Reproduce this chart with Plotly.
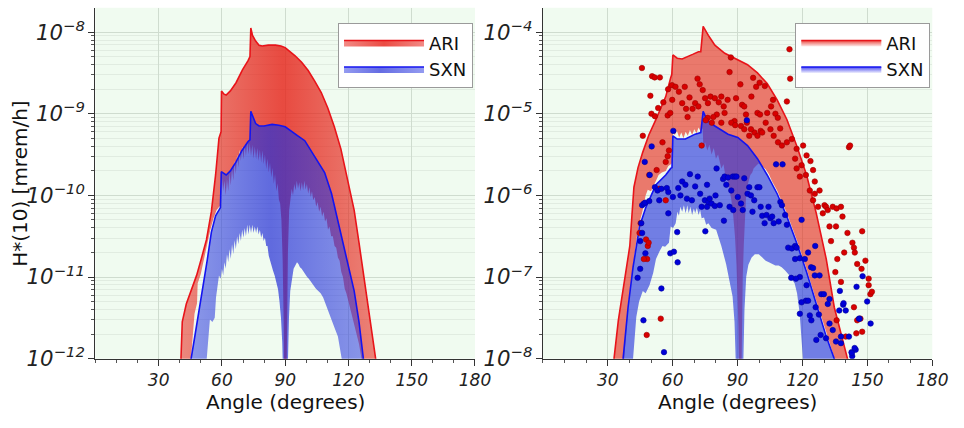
import plotly.graph_objects as go

# ---------------- data (angle in degrees, log10 of H*(10) in mrem/h) ----------------
ANGLE_TICKS = [30, 60, 90, 120, 150, 180]
SERIES = ["ARI", "SXN"]

# Left panel: envelope curves
ari_hi_left = [(40.3,-12.2),(41.2,-11.55),(43.1,-11.33),(45.5,-11.15),(48.0,-10.98),(50.5,-10.75),
               (52.7,-10.54),(55.0,-10.2),(57.0,-9.75),(58.6,-9.3),(59.6,-9.22),(59.8,-8.72),(61.0,-8.76),
               (62.0,-8.77),(64.0,-8.72),(66.7,-8.62),(69.8,-8.46),(72.4,-8.35),(73.3,-8.3),(73.7,-7.95),
               (74.5,-8.04),(76.0,-8.11),(77.6,-8.16),(79.1,-8.17),(82.0,-8.16),(85.4,-8.16),(88.0,-8.17),
               (90.0,-8.19),(92.0,-8.23),(94.7,-8.29),(97.8,-8.37),(100.9,-8.47),(104.0,-8.6),(107.1,-8.74),
               (110.2,-8.93),(113.3,-9.16),(116.4,-9.43),(119.5,-9.78),(122.7,-10.18),(125.0,-10.58),
               (127.3,-10.98),(129.0,-11.3),(130.5,-11.53),(133.3,-12.0),(134.0,-12.2)]

ari_lo_left = [(43.5,-12.6),(45.5,-11.9),(47.0,-11.45),(48.2,-11.32),(48.5,-11.08),(50.0,-10.96),
               (51.5,-10.78),(52.2,-10.7),(53.5,-10.52),(54.5,-10.42),(56.0,-10.28),(57.5,-10.18),
               (59.3,-10.12),(60.0,-9.78),(60.6,-9.95),(61.2,-9.82),(61.8,-10.0),(62.4,-9.8),(63.0,-9.95),
               (63.6,-9.72),(64.2,-9.88),(64.8,-9.66),(65.4,-9.82),(66.0,-9.58),(66.6,-9.74),(67.2,-9.5),
               (67.8,-9.66),(68.4,-9.44),(69.0,-9.58),(69.6,-9.4),(70.2,-9.56),(70.8,-9.38),(71.4,-9.52),
               (72.0,-9.34),(72.6,-9.5),(73.2,-9.36),(73.8,-9.52),(74.4,-9.38),(75.0,-9.55),(75.6,-9.4),
               (76.2,-9.56),(76.8,-9.42),(77.4,-9.58),(78.0,-9.44),(78.6,-9.6),(79.2,-9.45),(79.8,-9.62),
               (80.4,-9.5),(81.0,-9.68),(81.6,-9.55),(82.2,-9.72),(82.8,-9.6),(83.4,-9.78),(84.0,-9.66),
               (84.6,-9.86),(85.2,-9.74),(85.8,-9.95),(86.4,-9.85),(87.0,-10.05),(87.6,-10.1),(88.2,-10.3),
               (88.8,-10.8),(89.3,-11.6),(89.6,-12.6),(90.5,-12.6),(90.9,-11.4),(91.3,-10.7),(91.9,-10.18),
               (92.5,-10.05),(93.1,-9.92),(93.7,-10.0),(94.3,-9.86),(94.9,-9.94),(95.5,-9.82),(96.1,-9.92),
               (96.7,-9.84),(97.3,-9.95),(97.9,-9.84),(98.5,-9.94),(99.1,-9.82),(99.7,-9.93),(100.3,-9.86),
               (100.9,-9.98),(101.5,-9.9),(102.1,-10.02),(102.7,-9.95),(103.3,-10.06),(104.0,-10.02),
               (104.7,-10.14),(105.4,-10.08),(106.1,-10.2),(106.8,-10.14),(107.5,-10.26),(108.2,-10.2),
               (108.9,-10.32),(109.6,-10.28),(110.3,-10.42),(111.0,-10.38),(111.8,-10.5),(112.6,-10.5),
               (113.4,-10.62),(114.2,-10.64),(115.0,-10.76),(115.8,-10.8),(116.6,-10.94),(117.4,-11.0),
               (118.2,-11.14),(119.0,-11.2),(120.3,-11.33),(121.5,-11.46),(122.7,-11.57),(124.0,-11.72),
               (125.0,-11.82),(126.5,-12.05),(127.5,-12.6)]

sxn_hi_left = [(45.0,-12.2),(45.4,-12.0),(47.0,-11.75),(49.0,-11.45),(51.0,-11.15),(53.0,-10.8),
               (55.0,-10.45),(57.0,-10.25),(59.3,-10.15),(59.7,-9.71),(62.0,-9.75),(64.0,-9.7),
               (66.7,-9.59),(69.5,-9.45),(72.4,-9.34),(73.3,-9.32),(73.7,-8.97),(75.0,-9.06),(76.0,-9.12),
               (77.6,-9.15),(80.0,-9.15),(83.8,-9.13),(87.0,-9.14),(90.0,-9.16),(93.0,-9.21),(96.0,-9.27),
               (99.3,-9.33),(104.0,-9.52),(108.7,-9.72),(112.0,-9.98),(116.4,-10.46),(119.5,-10.8),
               (122.7,-11.17),(125.0,-11.55),(127.3,-12.0),(128.0,-12.2)]

sxn_lo_left = [(44.0,-12.6),(52.4,-12.6),(52.8,-12.0),(53.5,-11.8),(54.3,-11.52),(55.5,-11.55),
               (56.6,-11.5),(57.2,-11.25),(57.8,-11.1),(58.6,-10.98),(59.4,-11.02),(60.0,-10.9),
               (60.6,-10.98),(61.2,-10.82),(61.8,-10.9),(62.4,-10.72),(63.0,-10.82),(63.6,-10.66),
               (64.2,-10.78),(64.8,-10.6),(65.4,-10.72),(66.0,-10.55),(66.6,-10.66),(67.2,-10.5),
               (67.8,-10.6),(68.4,-10.46),(69.0,-10.56),(69.6,-10.42),(70.2,-10.52),(70.8,-10.4),
               (71.4,-10.5),(72.0,-10.36),(72.6,-10.48),(73.2,-10.36),(73.8,-10.46),(74.4,-10.36),
               (75.0,-10.46),(75.6,-10.38),(76.2,-10.46),(76.8,-10.38),(77.4,-10.48),(78.0,-10.42),
               (78.6,-10.52),(79.2,-10.46),(79.8,-10.56),(80.4,-10.52),(81.0,-10.62),(81.6,-10.62),
               (82.2,-10.74),(82.8,-10.8),(83.4,-10.86),(84.2,-10.92),(85.0,-10.98),(85.8,-11.06),
               (86.6,-11.15),(87.3,-11.3),(88.0,-11.5),(88.6,-11.8),(89.1,-12.2),(89.4,-12.6),(90.8,-12.6),
               (91.2,-12.0),(91.8,-11.5),(92.4,-11.17),(93.2,-11.0),(94.0,-10.9),(94.8,-10.86),
               (95.6,-10.82),(96.3,-10.84),(97.0,-10.88),(97.8,-10.9),(98.7,-10.94),(99.6,-10.97),
               (100.4,-11.0),(101.2,-11.02),(102.2,-11.06),(103.3,-11.1),(104.5,-11.14),(105.7,-11.17),
               (106.8,-11.2),(108.0,-11.25),(109.1,-11.33),(110.2,-11.41),(111.4,-11.49),(112.6,-11.57),
               (113.8,-11.65),(115.0,-11.73),(115.9,-11.85),(116.8,-12.0),(117.3,-12.6)]

# Right panel: envelope curves
ari_hi_right = [(32.5,-8.2),(32.9,-8.0),(34.9,-7.53),(37.9,-6.98),(40.2,-6.62),(42.1,-5.9),(44.0,-5.66),
                (46.2,-5.47),(49.0,-5.26),(52.3,-5.07),(54.5,-4.93),(56.8,-4.79),(59.1,-4.56),(59.6,-4.52),
                (60.1,-4.28),(62.1,-4.32),(64.4,-4.33),(67.4,-4.3),(69.5,-4.27),(71.9,-4.24),(73.0,-4.24),
                (74.1,-3.93),(75.3,-3.99),(76.5,-4.04),(78.0,-4.1),(79.5,-4.16),(84.1,-4.26),(88.6,-4.32),
                (94.6,-4.4),(99.2,-4.5),(103.7,-4.63),(108.3,-4.83),(112.8,-5.07),(117.3,-5.39),
                (121.9,-5.75),(126.4,-6.22),(131.0,-6.78),(134.7,-7.37),(138.5,-7.77),(140.8,-8.0),(141.5,-8.2)]

ari_lo_right = [(36.5,-8.6),(37.6,-8.0),(39.6,-7.31),(41.9,-6.81),(43.5,-6.5),(44.7,-6.33),(46.0,-6.2),
                (47.5,-6.0),(48.5,-5.93),(50.0,-5.95),(51.0,-5.9),(52.3,-5.82),(53.5,-5.75),(55.0,-5.72),
                (56.8,-5.7),(58.0,-5.64),(59.2,-5.62),(59.9,-5.6),(60.1,-5.22),(61.0,-5.26),(62.0,-5.21),
                (63.0,-5.29),(64.0,-5.23),(65.0,-5.3),(66.0,-5.22),(67.0,-5.27),(68.0,-5.2),(69.0,-5.26),
                (70.0,-5.19),(71.0,-5.24),(72.0,-5.17),(73.0,-5.22),(73.9,-5.18),(74.2,-5.42),(75.0,-5.35),
                (76.0,-5.45),(77.0,-5.38),(78.0,-5.5),(79.0,-5.42),(80.0,-5.55),(81.0,-5.5),(82.5,-5.67),
                (83.5,-5.62),(84.5,-5.78),(85.6,-5.83),(86.5,-5.95),(87.1,-6.05),(88.0,-6.25),(88.8,-6.5),
                (89.5,-6.85),(90.0,-7.2),(90.4,-7.6),(90.7,-8.2),(90.9,-9.0),(91.6,-9.0),(91.8,-8.2),
                (92.0,-7.6),(92.4,-7.0),(92.9,-6.6),(93.5,-6.2),(94.0,-5.98),(94.6,-5.88),(95.3,-5.8),
                (95.9,-5.75),(96.8,-5.72),(97.4,-5.67),(98.5,-5.64),(99.7,-5.61),(100.8,-5.63),
                (101.9,-5.65),(103.0,-5.68),(104.5,-5.74),(106.0,-5.83),(108.3,-5.94),(112.8,-6.22),
                (117.3,-6.54),(121.9,-6.9),(126.4,-7.29),(131.0,-7.69),(134.9,-8.0),(136.0,-8.5)]

sxn_hi_right = [(36.8,-8.2),(37.1,-8.0),(39.4,-7.37),(41.7,-6.88),(44.7,-6.38),(47.7,-6.14),
                (52.3,-5.87),(56.8,-5.75),(59.1,-5.67),(59.7,-5.66),(60.1,-5.27),(62.1,-5.31),(65.9,-5.31),
                (70.4,-5.25),(73.0,-5.23),(74.1,-4.97),(75.3,-5.04),(76.5,-5.09),(79.5,-5.15),
                (85.6,-5.25),(90.1,-5.29),(94.6,-5.39),(99.2,-5.55),(103.7,-5.75),(108.3,-5.98),
                (112.8,-6.26),(117.3,-6.58),(121.9,-6.94),(126.4,-7.33),(131.0,-7.73),(134.7,-8.0),
                (135.5,-8.2)]

sxn_lo_right = [(36.0,-9.0),(41.5,-9.0),(41.7,-8.0),(43.2,-7.49),(44.5,-7.3),(46.2,-7.17),(47.5,-7.2),
                (49.3,-7.1),(51.0,-6.95),(52.3,-6.78),(54.0,-6.68),(55.3,-6.62),(56.5,-6.63),(58.3,-6.58),
                (59.1,-6.38),(60.2,-6.4),(61.4,-6.34),(62.2,-6.2),(62.9,-6.25),(63.6,-6.14),(64.4,-6.2),
                (65.2,-6.12),(66.0,-6.22),(66.8,-6.12),(67.4,-6.22),(68.2,-6.14),(69.0,-6.24),(69.8,-6.16),
                (70.4,-6.22),(71.2,-6.15),(72.0,-6.24),(72.7,-6.18),(73.4,-6.28),(74.5,-6.27),(75.5,-6.36),
                (76.5,-6.34),(78.0,-6.4),(80.1,-6.42),(82.5,-6.62),(84.7,-6.84),(86.2,-7.04),(87.7,-7.24),
                (88.6,-7.55),(89.2,-8.0),(90.3,-9.0),(91.9,-9.0),(92.5,-8.0),(93.2,-7.4),(94.0,-7.0),
                (95.0,-6.85),(96.5,-6.76),(98.0,-6.72),(99.8,-6.72),(101.5,-6.76),(103.0,-6.8),
                (104.5,-6.82),(105.9,-6.84),(107.5,-6.86),(109.0,-6.86),(110.4,-6.88),(112.0,-6.92),
                (114.0,-6.98),(116.4,-7.08),(117.5,-7.2),(118.7,-7.44),(119.5,-7.7),(120.2,-8.0),(121.0,-8.5)]

# Right panel: individual measurements
ari_points = [(45.8,-4.44),(50.5,-4.54),(51.7,-4.555),(54.1,-4.555),(49.7,-4.78),(53.3,-4.93),(50.2,-5.0),
              (51.8,-5.03),(46.2,-5.27),(55.7,-4.86),(57.9,-4.7),(59.7,-4.65),(61.3,-4.67),(62.9,-4.73),
              (65.6,-4.67),(57.7,-5.02),(58.9,-4.99),(59.8,-4.83),(64.4,-4.87),(66.2,-4.94),(66.9,-5.04),
              (69.2,-4.94),(67.8,-4.8),(70.4,-4.87),(71.9,-4.91),(71.5,-4.57),(72.5,-4.64),(73.9,-4.71),
              (75.0,-4.81),(76.3,-4.87),(77.5,-4.79),(79.5,-4.81),(81.3,-4.86),(82.5,-4.79),(83.6,-4.91),
              (85.4,-4.83),(86.3,-4.49),(86.9,-4.31),(89.3,-4.81),(91.3,-4.64),(92.1,-4.89),(93.1,-4.91),
              (93.9,-5.01),(96.4,-4.79),(97.2,-4.56),(98.6,-4.67),(100.2,-4.62),(102.6,-4.66),(99.2,-4.99),
              (100.4,-5.01),(103.7,-4.99),(105.5,-4.91),(106.4,-4.83),(107.5,-5.0),(108.6,-5.05),
              (109.7,-5.18),(112.8,-4.85),(114.0,-4.21),(114.3,-4.57),(103.0,-5.11),(100.7,-5.21),
              (97.8,-5.23),(96.2,-5.19),(94.3,-5.11),(91.6,-5.15),(88.6,-5.09),(87.1,-5.11),(84.0,-4.99),
              (80.4,-5.01),(78.8,-5.04),(76.2,-5.05),(75.3,-5.08),(78.1,-5.11),(82.5,-5.11),(88.9,-5.14),
              (93.1,-5.19),(95.4,-5.27),(99.2,-5.27),(101.4,-5.23),(105.2,-5.19),(106.7,-5.27),
              (108.7,-5.35),(110.5,-5.39),(112.8,-5.35),(115.1,-5.31),(117.3,-5.43),(120.3,-5.39),
              (121.9,-5.51),(124.9,-5.69),(123.7,-5.58),(125.7,-5.83),(117.3,-5.67),(116.6,-5.55),
              (119.6,-5.63),(121.6,-5.75),(118.8,-5.77),(123.4,-5.94),(127.2,-6.14),(125.7,-5.98),
              (124.9,-6.06),(127.9,-5.94),(129.4,-6.22),(130.2,-6.12),(130.9,-6.14),(131.7,-6.18),
              (134.0,-6.14),(135.8,-6.16),(137.8,-6.14),(132.5,-6.38),(135.5,-6.38),(138.5,-6.26),
              (140.8,-6.46),(133.2,-6.56),(139.3,-6.7),(143.1,-6.58),(143.8,-6.64),(144.2,-6.7),
              (147.6,-6.44),(145.3,-6.84),(147.3,-6.9),(149.1,-6.8),(150.6,-7.02),(141.5,-5.41),
              (142.0,-5.39),(135.2,-6.94),(136.1,-6.78),(137.8,-7.06),(143.8,-7.37),(145.3,-7.53),
              (146.8,-7.51),(150.6,-7.1),(151.4,-7.21),(152.1,-7.18),(135.8,-7.53),(140.0,-7.73),
              (144.9,-7.69),(147.6,-7.67),(44.7,-6.46),(45.2,-6.34),(47.7,-6.54),(48.5,-6.62),
              (48.2,-6.78),(48.9,-6.58),(49.2,-5.75),(52.6,-5.69),(53.8,-5.92),(55.3,-5.35),(56.8,-5.59),
              (57.7,-5.52),(58.3,-5.45),(56.8,-6.06),(54.5,-7.51),(48.0,-7.71),(46.7,-6.78),(73.4,-5.39)]

sxn_points = [(94.3,-5.08),(60.3,-5.21),(50.3,-5.4),(47.1,-5.59),(49.4,-5.75),(51.8,-5.9),(53.0,-5.94),
              (54.8,-5.92),(53.8,-6.06),(57.3,-5.91),(58.0,-5.96),(45.9,-6.12),(46.7,-6.1),(47.3,-6.09),
              (49.2,-6.07),(45.5,-6.34),(45.9,-6.46),(45.0,-6.56),(43.8,-7.01),(45.0,-6.9),(47.4,-6.71),
              (46.5,-7.53),(54.8,-7.14),(56.0,-7.92),(58.9,-6.71),(60.6,-6.69),(62.3,-6.82),(62.1,-6.45),
              (58.0,-6.22),(60.1,-6.02),(62.6,-5.91),(64.4,-5.83),(63.6,-6.0),(65.9,-5.87),(66.6,-6.04),
              (68.0,-5.74),(68.9,-6.06),(70.4,-5.89),(71.6,-5.77),(72.7,-5.98),(73.4,-6.14),(74.9,-6.06),
              (75.9,-5.87),(75.1,-6.44),(75.9,-6.14),(76.5,-6.08),(77.1,-6.04),(78.0,-6.1),(79.5,-6.13),
              (79.8,-6.0),(80.3,-5.67),(81.8,-6.12),(83.3,-5.8),(84.0,-5.77),(84.8,-5.87),(83.7,-6.31),
              (85.6,-5.78),(86.3,-6.14),(87.1,-5.94),(87.8,-5.77),(88.7,-5.77),(89.5,-5.77),(88.0,-6.18),
              (90.1,-6.02),(91.6,-6.1),(92.4,-6.18),(93.1,-5.79),(94.6,-5.98),(95.4,-5.9),(96.2,-6.0),
              (96.9,-6.2),(97.7,-6.06),(99.2,-5.9),(100.1,-5.9),(100.7,-6.14),(101.4,-6.25),(102.5,-6.34),
              (103.4,-6.24),(104.3,-6.14),(105.2,-6.28),(106.7,-6.34),(106.0,-6.26),(109.0,-6.32),
              (109.8,-6.08),(110.5,-6.12),(107.8,-5.62),(110.8,-5.62),(112.0,-6.24),(112.8,-6.36),
              (113.4,-6.64),(115.1,-6.65),(116.6,-6.62),(117.3,-6.64),(116.6,-6.78),(118.8,-6.77),
              (119.6,-6.3),(121.1,-6.78),(122.6,-6.7),(125.9,-6.62),(124.0,-6.88),(118.8,-7.0),
              (117.0,-7.02),(114.8,-7.01),(121.9,-7.1),(124.9,-6.89),(125.7,-6.98),(127.9,-6.98),
              (128.7,-7.21),(121.6,-7.29),(119.6,-7.31),(122.6,-7.29),(118.8,-7.45),(123.4,-7.47),
              (126.1,-7.37),(124.1,-7.53),(127.6,-7.46),(129.9,-7.21),(131.7,-7.33),(132.5,-7.27),
              (126.4,-7.77),(130.9,-7.75),(134.0,-7.65),(135.5,-7.79),(137.8,-7.81),(137.8,-7.73),
              (137.0,-7.41),(138.8,-7.34),(140.0,-7.41),(141.5,-7.73),(142.7,-7.92),(143.0,-7.97),
              (144.6,-7.89),(146.1,-7.51),(147.8,-6.99),(145.0,-7.12),(149.9,-7.3),(146.4,-7.51),
              (151.5,-7.57),(137.3,-7.17),(139.0,-7.32),(144.1,-7.87),(142.8,-7.93),(132.5,-7.57),
              (128.4,-7.71)]


def xy(pairs):
    return [p[0] for p in pairs], [10 ** p[1] for p in pairs]


FONT = "DejaVu Sans"
BG = "#f0fbf0"
GRID = "#cfdccf"
MINOR_GRID = "#e1ece1"

RED_LINE = "#e8141a"
BLUE_LINE = "#1414f0"

fig = go.Figure()


def band(lo, hi, name, line_color, fill_kw, xa, ya, legend, in_legend):
    lx, ly = xy(lo)
    hx, hy = xy(hi)
    fig.add_trace(go.Scatter(x=lx, y=ly, mode="lines", line=dict(width=0, color="rgba(0,0,0,0)"),
                             showlegend=False, hoverinfo="skip", xaxis=xa, yaxis=ya))
    fig.add_trace(go.Scatter(x=hx, y=hy, mode="lines", name=name, fill="tonext",
                             line=dict(color=line_color, width=1.6), xaxis=xa, yaxis=ya,
                             legend=legend, showlegend=in_legend, **fill_kw))


# Left panel: horizontal colour gradients across the envelopes
red_grad = dict(fillgradient=dict(type="horizontal", start=40, stop=135,
                                  colorscale=[[0, "rgba(230,30,20,0.52)"], [0.5, "rgba(230,30,20,0.80)"],
                                              [1, "rgba(230,30,20,0.52)"]]))
blue_grad = dict(fillgradient=dict(type="horizontal", start=44, stop=128,
                                   colorscale=[[0, "rgba(40,55,225,0.50)"], [0.45, "rgba(40,50,215,0.72)"],
                                               [1, "rgba(40,55,225,0.50)"]]))
band(ari_lo_left, ari_hi_left, SERIES[0], RED_LINE, red_grad, "x", "y", "legend", True)
band(sxn_lo_left, sxn_hi_left, SERIES[1], BLUE_LINE, blue_grad, "x", "y", "legend", True)

# Right panel: flat fills; its legend keys carry a top-to-bottom fade
band(ari_lo_right, ari_hi_right, SERIES[0], RED_LINE, dict(fillcolor="rgba(230,35,20,0.60)"),
     "x2", "y2", "legend2", False)
band(sxn_lo_right, sxn_hi_right, SERIES[1], BLUE_LINE, dict(fillcolor="rgba(40,55,220,0.64)"),
     "x2", "y2", "legend2", False)

px_, py_ = xy(ari_points)
fig.add_trace(go.Scatter(x=px_, y=py_, mode="markers", showlegend=False, xaxis="x2", yaxis="y2",
                         marker=dict(size=5.5, color="#d80000", line=dict(width=0.6, color="#a00000"))))
px_, py_ = xy(sxn_points)
fig.add_trace(go.Scatter(x=px_, y=py_, mode="markers", showlegend=False, xaxis="x2", yaxis="y2",
                         marker=dict(size=5.5, color="#0000d8", line=dict(width=0.6, color="#0000a0"))))

for name, line_color, rgb in [(SERIES[0], RED_LINE, "230,30,20"), (SERIES[1], BLUE_LINE, "30,30,235")]:
    fig.add_trace(go.Scatter(x=[None], y=[None], mode="lines", name=name, fill="tonext",
                             line=dict(color=line_color, width=1.6), xaxis="x2", yaxis="y2",
                             legend="legend2", showlegend=True, hoverinfo="skip",
                             fillgradient=dict(type="vertical",
                                               colorscale=[[0, f"rgba({rgb},0.08)"],
                                                           [1, f"rgba({rgb},0.80)"]])))

W, H = 964, 428
ydom = [(H - 369) / H, (H - 8) / H]

tickfont = dict(family=FONT, size=17, color="#222", style="italic")


def xaxis(domain, anchor):
    return dict(domain=domain, anchor=anchor, range=[0, 180], tickvals=ANGLE_TICKS,
                showgrid=True, gridcolor=GRID, gridwidth=1, zeroline=False,
                showline=True, linecolor="#333", linewidth=1, ticks="outside", ticklen=6,
                tickcolor="#333", tickfont=tickfont,
                minor=dict(dtick=10, ticks="outside", ticklen=3, tickcolor="#555", showgrid=False))


def yaxis(domain, anchor, rng):
    return dict(domain=domain, anchor=anchor, type="log", range=rng, dtick=1,
                exponentformat="power", showgrid=True, gridcolor=GRID, gridwidth=1, zeroline=False,
                showline=True, linecolor="#333", linewidth=1, ticks="outside", ticklen=6,
                tickcolor="#333", tickfont=tickfont,
                minor=dict(dtick="D1", ticks="outside", ticklen=3, tickcolor="#555",
                           showgrid=True, gridcolor=MINOR_GRID, gridwidth=1))


legend_style = dict(font=dict(family=FONT, size=18, color="#111"), bgcolor="white",
                    bordercolor="#9a9a9a", borderwidth=1, itemwidth=80, yanchor="top", xanchor="right",
                    tracegroupgap=0)

fig.update_layout(
    width=W, height=H, margin=dict(l=0, r=0, t=0, b=0),
    paper_bgcolor="white", plot_bgcolor=BG,
    font=dict(family=FONT, color="#111"),
    xaxis=xaxis([97 / W, 483 / W], "y"),
    yaxis=yaxis(ydom, "x", [-12, -7.702]),
    xaxis2=xaxis([552 / W, 948 / W], "y2"),
    yaxis2=yaxis(ydom, "x2", [-8, -3.702]),
    legend=dict(x=481 / W, y=(H - 24) / H, **legend_style),
    legend2=dict(x=946 / W, y=(H - 24) / H, **legend_style),
    annotations=[
        dict(text="H*(10) [mrem/h]", x=21 / W, y=(ydom[0] + ydom[1]) / 2, xref="paper", yref="paper",
             textangle=-90, showarrow=False, font=dict(family=FONT, size=20, color="#111"),
             xanchor="center", yanchor="middle"),
        dict(text="Angle (degrees)", x=290 / W, y=(H - 414) / H, xref="paper", yref="paper",
             showarrow=False, font=dict(family=FONT, size=20, color="#111"),
             xanchor="center", yanchor="middle"),
        dict(text="Angle (degrees)", x=750 / W, y=(H - 414) / H, xref="paper", yref="paper",
             showarrow=False, font=dict(family=FONT, size=20, color="#111"),
             xanchor="center", yanchor="middle"),
    ],
)

fig.write_html("out.html")
